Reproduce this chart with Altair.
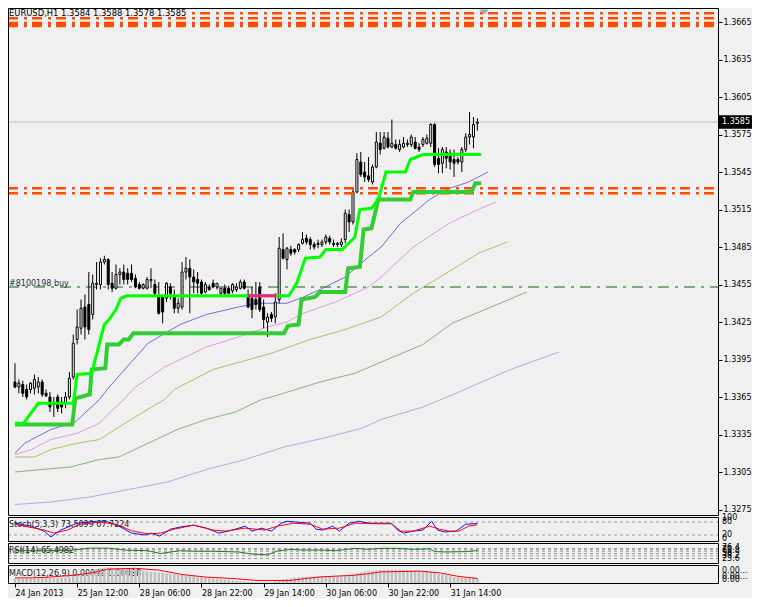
import altair as alt
import pandas as pd

FONT = "DejaVu Sans"

# ---------------- price bars (H1, index 0 = 24 Jan 2013 20:00) ----------------
OPEN = [1.3377,1.3373,1.3375,1.3371,1.3371,1.3372,1.3373,1.3377,1.3368,1.3365,
        1.3360,1.3365,1.3361,1.3360,1.3365,1.3381,1.3411,1.3420,1.3437,1.3439,
        1.3431,1.3455,1.3455,1.3473,1.3475,1.3456,1.3452,1.3463,1.3465,1.3464,
        1.3464,1.3460,1.3455,1.3452,1.3452,1.3458,1.3455,1.3445,1.3445,1.3444,
        1.3453,1.3445,1.3436,1.3437,1.3465,1.3468,1.3461,1.3459,1.3457,1.3449,
        1.3453,1.3456,1.3453,1.3448,1.3452,1.3452,1.3450,1.3451,1.3452,1.3457,
        1.3447,1.3444,1.3443,1.3453,1.3437,1.3425,1.3431,1.3429,1.3443,1.3483,
        1.3475,1.3483,1.3483,1.3483,1.3488,1.3492,1.3491,1.3487,1.3488,1.3487,
        1.3489,1.3492,1.3488,1.3487,1.3487,1.3491,1.3511,1.3505,1.3529,1.3553,
        1.3545,1.3542,1.3537,1.3549,1.3568,1.3564,1.3572,1.3565,1.3567,1.3563,
        1.3565,1.3567,1.3567,1.3569,1.3565,1.3567,1.3568,1.3568,1.3583,1.3556,
        1.3552,1.3561,1.3560,1.3555,1.3555,1.3553,1.3563,1.3573,1.3573,1.3584]
HIGH = [1.3392,1.3379,1.3378,1.3375,1.3377,1.3383,1.3381,1.3379,1.3371,1.3369,
        1.3365,1.3367,1.3365,1.3369,1.3385,1.3415,1.3435,1.3443,1.3447,1.3465,
        1.3463,1.3473,1.3476,1.3478,1.3476,1.3465,1.3471,1.3468,1.3471,1.3468,
        1.3471,1.3463,1.3457,1.3456,1.3461,1.3468,1.3459,1.3457,1.3447,1.3457,
        1.3456,1.3451,1.3444,1.3473,1.3477,1.3475,1.3467,1.3465,1.3459,1.3457,
        1.3455,1.3459,1.3456,1.3452,1.3455,1.3454,1.3456,1.3456,1.3459,1.3459,
        1.3451,1.3453,1.3457,1.3457,1.3443,1.3432,1.3433,1.3448,1.3493,1.3496,
        1.3485,1.3486,1.3484,1.3488,1.3497,1.3495,1.3493,1.3489,1.3491,1.3491,
        1.3495,1.3494,1.3491,1.3489,1.3492,1.3515,1.3515,1.3532,1.3560,1.3561,
        1.3553,1.3557,1.3551,1.3577,1.3577,1.3577,1.3577,1.3587,1.3571,1.3571,
        1.3573,1.3571,1.3575,1.3573,1.3568,1.3573,1.3575,1.3584,1.3584,1.3564,
        1.3565,1.3565,1.3563,1.3563,1.3557,1.3565,1.3576,1.3593,1.3589,1.3588]
LOW = [1.3372,1.3368,1.3365,1.3363,1.3368,1.3367,1.3368,1.3365,1.3365,1.3353,
       1.3349,1.3353,1.3352,1.3356,1.3363,1.3379,1.3407,1.3415,1.3411,1.3415,
       1.3427,1.3451,1.3451,1.3471,1.3451,1.3449,1.3451,1.3455,1.3455,1.3455,
       1.3457,1.3452,1.3451,1.3451,1.3451,1.3452,1.3445,1.3431,1.3424,1.3441,
       1.3443,1.3432,1.3432,1.3435,1.3459,1.3432,1.3448,1.3448,1.3445,1.3448,
       1.3450,1.3452,1.3451,1.3446,1.3447,1.3448,1.3448,1.3449,1.3451,1.3451,
       1.3436,1.3428,1.3435,1.3433,1.3420,1.3413,1.3425,1.3424,1.3440,1.3475,
       1.3467,1.3478,1.3479,1.3481,1.3487,1.3487,1.3483,1.3483,1.3484,1.3485,
       1.3487,1.3487,1.3485,1.3485,1.3485,1.3488,1.3497,1.3503,1.3528,1.3541,
       1.3537,1.3537,1.3535,1.3548,1.3559,1.3563,1.3564,1.3564,1.3563,1.3561,
       1.3564,1.3565,1.3565,1.3563,1.3561,1.3565,1.3567,1.3565,1.3549,1.3544,
       1.3544,1.3548,1.3547,1.3541,1.3551,1.3545,1.3561,1.3567,1.3564,1.3578]
CLOSE = [1.3373,1.3376,1.3368,1.3365,1.3376,1.3379,1.3377,1.3367,1.3366,1.3357,
         1.3359,1.3356,1.3357,1.3365,1.3380,1.3408,1.3421,1.3436,1.3421,1.3419,
         1.3456,1.3456,1.3473,1.3475,1.3455,1.3452,1.3463,1.3465,1.3459,1.3459,
         1.3459,1.3453,1.3452,1.3455,1.3459,1.3459,1.3448,1.3432,1.3433,1.3456,
         1.3448,1.3436,1.3440,1.3465,1.3468,1.3461,1.3457,1.3456,1.3448,1.3455,
         1.3451,1.3453,1.3456,1.3452,1.3448,1.3448,1.3455,1.3453,1.3457,1.3452,
         1.3437,1.3435,1.3439,1.3435,1.3427,1.3429,1.3428,1.3441,1.3484,1.3476,
         1.3484,1.3480,1.3481,1.3487,1.3491,1.3489,1.3487,1.3485,1.3487,1.3489,
         1.3493,1.3489,1.3487,1.3488,1.3489,1.3512,1.3505,1.3529,1.3555,1.3543,
         1.3541,1.3539,1.3549,1.3569,1.3563,1.3573,1.3565,1.3568,1.3564,1.3567,
         1.3568,1.3568,1.3573,1.3564,1.3563,1.3571,1.3572,1.3583,1.3551,1.3551,
         1.3563,1.3556,1.3553,1.3552,1.3553,1.3563,1.3573,1.3575,1.3583,1.3585]

PRICE_TICKS = [1.3275, 1.3305, 1.3335, 1.3365, 1.3395, 1.3425, 1.3455, 1.3485,
               1.3515, 1.3545, 1.3575, 1.3605, 1.3635, 1.3665]
TIME_TICKS = [0, 16, 32, 48, 64, 80, 96, 112]
TIME_LABELS = ["24 Jan 2013", "25 Jan 12:00", "28 Jan 06:00", "28 Jan 22:00",
               "29 Jan 14:00", "30 Jan 06:00", "30 Jan 22:00", "31 Jan 14:00"]

# ---------------- moving averages (shifted forward) ----------------
MA1_BAR = [0, 2.5, 9.25, 15.5, 21.75, 24.25, 34.25, 42.5, 49.25, 57.5, 62.5, 70, 74.25, 79.25, 85, 91, 94.25, 99.25, 106.75, 111, 116.75, 121.75]
MA1_PRICE = [1.3320, 1.3328, 1.3339, 1.3345, 1.3363, 1.3373, 1.3408, 1.3423, 1.3431, 1.3437, 1.3440, 1.3440, 1.3445, 1.3452, 1.3461, 1.3477, 1.3485, 1.3504, 1.3523, 1.3531, 1.3537, 1.3545]
MA2_BAR = [0, 4.25, 9.25, 16, 21.75, 24.25, 28, 31, 38.5, 49.25, 57.5, 65, 70, 74.25, 82.5, 91, 94.25, 102.5, 111.75, 119.25, 123.75]
MA2_PRICE = [1.3319, 1.3323, 1.3331, 1.3336, 1.3344, 1.3352, 1.3363, 1.3373, 1.3389, 1.3405, 1.3413, 1.3421, 1.3425, 1.3432, 1.3441, 1.3453, 1.3461, 1.3485, 1.3504, 1.3515, 1.3521]
MA3_BAR = [0, 5, 9.25, 16, 21.75, 26.75, 32.5, 38.5, 41, 51, 66, 76, 85, 94.25, 102.5, 111, 119.25, 126.75]
MA3_PRICE = [1.3317, 1.3317, 1.3323, 1.3328, 1.3331, 1.3341, 1.3352, 1.3363, 1.3371, 1.3387, 1.3400, 1.3411, 1.3419, 1.3429, 1.3448, 1.3464, 1.3480, 1.3489]
MA4_BAR = [0, 6.75, 14.25, 21.75, 26.75, 34.25, 41.75, 49.25, 56.75, 63.5, 66, 78.5, 87.5, 94.25, 105, 112.5, 121, 131.75]
MA4_PRICE = [1.3305, 1.3307, 1.3309, 1.3315, 1.3317, 1.3328, 1.3339, 1.3347, 1.3353, 1.3363, 1.3365, 1.3377, 1.3384, 1.3393, 1.3407, 1.3424, 1.3435, 1.3449]
MA5_BAR = [0, 9.25, 19.25, 29.25, 39.25, 49.25, 59.25, 69.25, 79.25, 89.25, 94.25, 105, 113.5, 127.5, 140]
MA5_PRICE = [1.3279, 1.3281, 1.3285, 1.3291, 1.3297, 1.3307, 1.3315, 1.3325, 1.3332, 1.3340, 1.3347, 1.3357, 1.3368, 1.3387, 1.3401]

# ---------------- trailing stop lines ----------------
LIME_BAR = [0, 2.25, 6, 15, 16, 19.75, 23, 24.25, 26, 27.25, 28.75, 70.5, 72.5, 74.75, 78.5, 80, 84.25, 87.5, 88.75, 91.75, 93.5, 95.5, 100.5, 101.75, 105, 120]
LIME_PRICE = [1.3344, 1.3344, 1.3360, 1.3360, 1.3383, 1.3384, 1.3423, 1.3427, 1.3435, 1.3444, 1.3446, 1.3446, 1.3456, 1.3476, 1.3477, 1.3483, 1.3483, 1.3493, 1.3515, 1.3516, 1.3523, 1.3545, 1.3545, 1.3555, 1.3559, 1.3559]
PINK_BAR = [60, 67.25]
PINK_PRICE = [1.3446, 1.3446]
DG_BAR = [0, 14.75, 15.5, 19.25, 19.75, 23.25, 23.75, 26.75, 28, 29.25, 30.5, 69.25, 70.25, 73, 73.75, 77.25, 78.5, 85, 85.75, 88.75, 89.75, 91.75, 93.5, 101.75, 102.5, 117.5, 118.5, 120]
DG_PRICE = [1.3343, 1.3343, 1.3364, 1.3367, 1.3387, 1.3388, 1.3407, 1.3407, 1.3411, 1.3411, 1.3416, 1.3416, 1.3422, 1.3423, 1.3443, 1.3445, 1.3449, 1.3449, 1.3468, 1.3469, 1.3499, 1.3500, 1.3523, 1.3523, 1.3529, 1.3529, 1.3536, 1.3536]

# ---------------- horizontal levels ----------------
ORANGE_THIN = [1.3672, 1.3668, 1.3532, 1.3528]
ORANGE_THICK = [1.3663]
ORDER_PRICE = [1.3453]
ORDER_TEXT = ["#8100198 buy"]
LAST_PRICE = [1.3585]
LAST_TEXT = ["1.3585"]

# ---------------- Stochastic ----------------
SM_BAR = [0, 4.25, 7.5, 9.25, 11.75, 16, 21, 23.5, 26.75, 30, 33.5, 35, 37.25, 40, 42.5, 46, 49.25, 52.5, 56, 59.25, 61, 63.5, 66, 68.5, 70, 72.5, 76, 77.5, 79.25, 81.75, 83.5, 86, 88.5, 91, 94.25, 96.75, 98.5, 100, 102.5, 105, 107.25, 108.75, 110.5, 113.5, 116, 119]
SM_VAL = [75, 61, 38, 11, 43, 75, 84, 84, 61, 29, 20, 29, 15, 47, 57, 66, 52, 29, 43, 61, 38, 52, 38, 75, 84, 80, 75, 47, 43, 61, 38, 75, 84, 75, 75, 75, 43, 29, 38, 43, 84, 43, 34, 38, 70, 73.5]
SS_BAR = [0, 7.5, 10, 13.5, 16.75, 21.75, 26, 30, 34.25, 37.5, 41, 46, 51, 54.25, 59.25, 64.25, 67.5, 71.75, 76, 79.25, 83.5, 87.5, 94.25, 97, 99.25, 102.5, 106.75, 109.25, 111.75, 114.25, 116.75, 119]
SS_VAL = [70, 43, 29, 43, 70, 80, 70, 40, 25, 29, 47, 66, 43, 38, 52, 43, 61, 75, 70, 47, 52, 75, 72, 72, 38, 38, 61, 47, 38, 38, 61, 67.7]
STOCH_LEVELS = [20, 80]
STOCH_LABEL_VAL = [100, 80, 20, 0]
STOCH_LABEL_TXT = ["100", "80", "20", "0"]

# ---------------- RSI ----------------
RSI_BAR = [0, 8, 14, 19, 24, 29, 34, 37.5, 42.5, 46, 51, 57.5, 61, 65, 67.5, 71, 74, 79, 82.5, 87.5, 91, 94, 98.5, 102.5, 106.75, 108, 111, 116, 119]
RSI_VAL = [65, 65, 66, 78, 78, 67, 65, 50, 65, 62, 62, 58, 47, 43, 63, 72, 68, 68, 65, 77, 72, 77, 77, 72, 75, 60, 58, 60, 65.5]
RSI_LEVELS = [23.6, 38.2, 50, 61.8, 70, 76.4]
RSI_LABEL_TXT = ["23.6", "38.2", "50", "61.8", "70", "76.4"]

# ---------------- MACD ----------------
MACD_HIST = [0.00085, 0.00083, 0.00082, 0.00084, 0.00086, 0.00088,
             0.00092, 0.00096, 0.00098, 0.00097, 0.00099, 0.00102, 0.00104,
             0.00110, 0.00125, 0.00145, 0.00165,
             0.00185, 0.00205, 0.00225, 0.00250,
             0.00270, 0.00285, 0.00297, 0.00300, 0.00296,
             0.00290, 0.00284, 0.00278, 0.00272, 0.00265,
             0.00258, 0.00250, 0.00240, 0.00230, 0.00220,
             0.00212, 0.00202, 0.00195, 0.00188, 0.00180,
             0.00170, 0.00162, 0.00158, 0.00150, 0.00142,
             0.00135, 0.00125, 0.00115, 0.00105, 0.00098,
             0.00090, 0.00082, 0.00075, 0.00068, 0.00060,
             0.00052, 0.00045, 0.00038, 0.00032, 0.00025,
             0.00020, 0.00016, 0.00014, 0.00012, 0.00012, 0.00015,
             0.00030, 0.00050, 0.00068, 0.00080,
             0.00092, 0.00100, 0.00108, 0.00115, 0.00120,
             0.00125, 0.00128, 0.00130, 0.00130, 0.00132, 0.00132, 0.00130, 0.00128, 0.00130, 0.00140,
             0.00155, 0.00170, 0.00190, 0.00210, 0.00225,
             0.00235, 0.00242, 0.00248, 0.00252, 0.00255,
             0.00258, 0.00258, 0.00256, 0.00254, 0.00252, 0.00250, 0.00250, 0.00248, 0.00244,
             0.00235, 0.00225, 0.00215, 0.00205,
             0.00185, 0.00165, 0.00150, 0.00135,
             0.00120, 0.00110, 0.00102, 0.00098,
             0.00098, 0.00099, 0.00099]
MS_BAR = [0, 4, 8, 15, 20, 24, 31, 37, 43, 49, 57, 62, 71, 74, 79, 87, 91, 94, 104, 109, 114, 119]
MS_VAL = [0.00099, 0.00099, 0.00110, 0.00150, 0.00200, 0.00270, 0.00285, 0.00250, 0.00165, 0.00116, 0.00083, 0.00050, 0.00050, 0.00080, 0.00120, 0.00149, 0.00180, 0.00215, 0.00230, 0.00200, 0.00130, 0.00088]

# ================= chart =================
W, H = 710, 575
RP = 34          # room right of the plot for the price labels (svg width = 744)
BG = "#f0f0f0"

label_expr = " : ".join(f"datum.value == {t} ? '{l}'" for t, l in zip(TIME_TICKS, TIME_LABELS)) + " : ''"
XSC = alt.Scale(domain=[-0.51, 179.65], nice=False, zero=False)
XAX = alt.Axis(values=TIME_TICKS, labelExpr=label_expr, orient="bottom", domain=False, grid=False,
               ticks=True, tickSize=4, tickColor="black", labelAlign="left", labelBaseline="top",
               labelPadding=2, labelFont=FONT, labelFontSize=8, labelColor="black",
               labelOverlap=False, labelFlush=False, labelBound=False, title=None)


def X(field="bar"):
    return alt.X(f"{field}:Q", scale=XSC, axis=XAX)


PSC = alt.Scale(domain=[1.3275, 1.3665], range=[501.5, 14], nice=False, zero=False)
PAX = alt.Axis(orient="right", values=PRICE_TICKS, format=".4f", domain=False, grid=False,
               tickSize=4, tickColor="black", labelPadding=1, labelFont=FONT, labelFontSize=8,
               labelColor="black", labelOverlap=False, labelBound=False, labelFlush=False, title=None)


def YP(field):
    return alt.Y(f"{field}:Q", scale=PSC, axis=PAX)


SSC = alt.Scale(domain=[0, 100], range=[531.3, 509.8], nice=False, zero=False)
RSC = alt.Scale(domain=[0, 100], range=[555, 536], nice=False, zero=False)
MSC = alt.Scale(domain=[0, 0.0033], range=[575, 558], nice=False, zero=False)


def YS(field):
    return alt.Y(f"{field}:Q", scale=SSC, axis=None)


def YR(field):
    return alt.Y(f"{field}:Q", scale=RSC, axis=None)


def YM(field):
    return alt.Y(f"{field}:Q", scale=MSC, axis=None)


one = pd.DataFrame({"k": [0]})


def path_layer(bars, vals, color, width, yfun, **kw):
    d = pd.DataFrame({"bar": bars, "v": vals})
    return alt.Chart(d).mark_line(color=color, strokeWidth=width, **kw).encode(x=X(), y=yfun("v"))


def hlines(vals, color, width, yfun, dash=None):
    d = pd.DataFrame({"v": vals})
    kw = dict(color=color, strokeWidth=width)
    if dash:
        kw["strokeDash"] = dash
    return alt.Chart(d).mark_rule(**kw).encode(y=yfun("v"), x=alt.value(0), x2=alt.value(W))


def label(s, x, y, size=8, color="black", align="left", baseline="middle"):
    return alt.Chart(one).mark_text(text=s, align=align, baseline=baseline, font=FONT,
                                    fontSize=size, color=color).encode(x=alt.value(x), y=alt.value(y))


def box(x1, x2, y1, y2, sw=1):
    return alt.Chart(one).mark_rect(fillOpacity=0, stroke="black", strokeWidth=sw).encode(
        x=alt.value(x1), x2=alt.value(x2), y=alt.value(y1), y2=alt.value(y2))


# ---- main panel ----
candles = pd.DataFrame({"bar": list(range(len(OPEN))), "open": OPEN, "high": HIGH,
                        "low": LOW, "close": CLOSE})

wicks = alt.Chart(candles).mark_rule(color="black", strokeWidth=1).encode(
    x=X(), y=YP("low"), y2="high")
bodies = alt.Chart(candles).mark_bar(size=2, stroke="black", strokeWidth=1).encode(
    x=X(), y=YP("open"), y2="close",
    fill=alt.condition("datum.close >= datum.open", alt.value("white"), alt.value("black")))

ma_layers = [
    path_layer(MA5_BAR, MA5_PRICE, "#b4aadc", 1, YP),
    path_layer(MA4_BAR, MA4_PRICE, "#86b47c", 1, YP),
    path_layer(MA3_BAR, MA3_PRICE, "#c2b560", 1, YP),
    path_layer(MA2_BAR, MA2_PRICE, "#e099e0", 1, YP),
    path_layer(MA1_BAR, MA1_PRICE, "#7d66e0", 1, YP),
]

order_line = hlines(ORDER_PRICE, "#0b6b0b", 1.2, YP, dash=[11, 6, 3, 6])
price_line = hlines(LAST_PRICE, "#c0c0c0", 1, YP)
orange_thin = hlines(ORANGE_THIN, "#ff4a00", 2.6, YP, dash=[10, 6, 3, 5])
orange_thick = hlines(ORANGE_THICK, "#ff4a00", 5.5, YP, dash=[10, 6, 3, 5])

dgreen = path_layer(DG_BAR, DG_PRICE, "#32cd32", 4, YP)
lime = path_layer(LIME_BAR, LIME_PRICE, "#00ff00", 3, YP)
pink = path_layer(PINK_BAR, PINK_PRICE, "#ff1493", 3, YP)

order_df = pd.DataFrame({"p": ORDER_PRICE, "t": ORDER_TEXT})
order_label = alt.Chart(order_df).mark_text(align="left", baseline="bottom", font=FONT, fontSize=8,
                                            color="#2b3140", dy=1).encode(
    x=alt.value(1), y=YP("p"), text="t:N")

last_df = pd.DataFrame({"p": LAST_PRICE, "t": LAST_TEXT})
last_box = alt.Chart(last_df).mark_point(shape="M-1,-0.41H1V0.41H-1Z", size=1089, filled=True,
                                         color="black", opacity=1).encode(x=alt.value(W + 17.5), y=YP("p"))
last_text = alt.Chart(last_df).mark_text(align="left", baseline="middle", font=FONT, fontSize=8,
                                         color="white").encode(x=alt.value(W + 4), y=YP("p"), text="t:N")

title_bg = alt.Chart(one).mark_rect(color=BG).encode(
    x=alt.value(1), x2=alt.value(182), y=alt.value(1), y2=alt.value(8.5))
title = label("EURUSD,H1  1.3584 1.3588 1.3578 1.3585", 1, 5, size=8.4)
shift_marker = alt.Chart(one).mark_point(shape="M-1,-0.5L1,-0.5L0,0.5Z", size=100, filled=True,
                                         color="#a8a8a8", opacity=1).encode(x=alt.value(476), y=alt.value(4))

main = alt.layer(
    *ma_layers, price_line, order_line, wicks, bodies, orange_thin, orange_thick,
    dgreen, lime, pink, order_label, last_box, last_text, title_bg, title, shift_marker
)

# ---- stochastic panel ----
stoch_lab_df = pd.DataFrame({"v": STOCH_LABEL_VAL, "t": STOCH_LABEL_TXT})
stoch = alt.layer(
    hlines(STOCH_LEVELS, "#9a9a9a", 1, YS, dash=[3, 3]),
    label("Stoch(5,3,3) 73.5099 67.7224", 1, 517, color="#202020"),
    path_layer(SM_BAR, SM_VAL, "#1010ff", 1, YS),
    path_layer(SS_BAR, SS_VAL, "#ff0000", 1, YS),
    alt.Chart(stoch_lab_df).mark_text(align="left", baseline="middle", font=FONT, fontSize=8,
                                      color="black").encode(x=alt.value(W + 4), y=YS("v"), text="t:N"),
)

# ---- RSI panel ----
rsi_lab_df = pd.DataFrame({"v": RSI_LEVELS, "t": RSI_LABEL_TXT})
rsi = alt.layer(
    hlines(RSI_LEVELS, "#9a9a9a", 1, YR, dash=[3, 3]),
    label("RSI(14) 65.4982", 1, 543, color="#202020"),
    path_layer(RSI_BAR, RSI_VAL, "#1e7b1e", 1, YR),
    alt.Chart(rsi_lab_df).mark_text(align="left", baseline="middle", font=FONT, fontSize=8,
                                    color="black").encode(x=alt.value(W + 4), y=YR("v"), text="t:N"),
)

# ---- MACD panel ----
hist_df = pd.DataFrame({"bar": list(range(len(MACD_HIST))), "v": MACD_HIST})
macd = alt.layer(
    label("MACD(12,26,9) 0.00099 0.00088", 1, 566, color="#202020"),
    alt.Chart(hist_df).mark_bar(size=2.6, color="#c0c0c0").encode(x=X(), y=YM("v")),
    path_layer(MS_BAR, MS_VAL, "#ff0000", 1, YM),
    alt.Chart(one).mark_text(text="0.003329", align="left", baseline="middle", font=FONT, fontSize=8,
                             color="black", limit=30, ellipsis="").encode(x=alt.value(W + 4), y=alt.value(563)),
    alt.Chart(one).mark_text(text="0.00005", align="left", baseline="middle", font=FONT, fontSize=8,
                             color="black", limit=30, ellipsis="").encode(x=alt.value(W + 4), y=alt.value(569)),
    alt.Chart(one).mark_text(text="0.00", align="left", baseline="middle", font=FONT, fontSize=8,
                             color="black").encode(x=alt.value(W + 4), y=alt.value(572)),
)

frames = alt.layer(
    box(0.5, W + 0.5, 0.5, 507.5),
    box(0.5, W + 0.5, 509.5, 533.5),
    box(0.5, W + 0.5, 535.5, 555.5),
    box(0.5, W + 0.5, 557.5, H + 0.5),
)

chart = alt.layer(main, stoch, rsi, macd, frames).resolve_scale(y="independent").properties(
    width=W, height=H, background=BG,
    autosize=alt.AutoSizeParams(type="none"),
    padding={"left": 0, "top": 0, "right": RP, "bottom": 15},
).configure_view(stroke=None, fill=BG)

chart.save("out.html", embed_options={"renderer": "svg", "actions": False})
